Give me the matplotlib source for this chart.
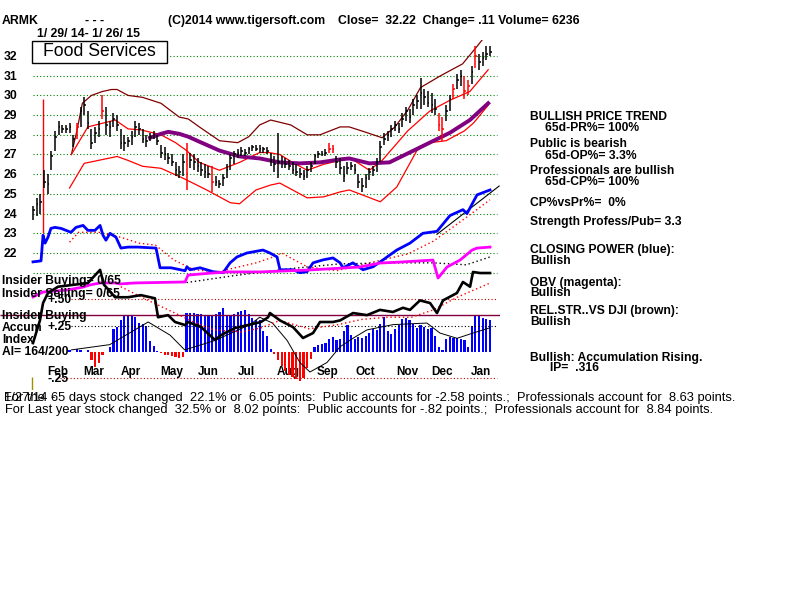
import numpy as np
import matplotlib
matplotlib.use("Agg")
import matplotlib.pyplot as plt
from matplotlib.patches import Rectangle

# ---- price bars, sampled every 2 trading days from 1/29/14 ----
days = list(range(0, 252, 2))
highs = [24.4, 24.8, 25.0, 26.2, 26.0, 27.2, 28.2, 28.7, 28.5, 28.5, 28.6, 28.0, 28.6, 29.4, 29.9, 29.2,
         28.3, 28.4, 28.7, 30.0, 29.4, 28.7, 29.1, 29.0, 28.3, 28.0, 27.9, 28.2, 28.7, 28.6, 28.3, 28.0,
         28.1, 28.2, 28.0, 27.5, 27.4, 27.1, 27.0, 26.6, 26.4, 27.0, 27.6, 27.1, 27.0, 26.8, 26.6, 26.5,
         26.4, 26.4, 25.9, 25.7, 26.0, 26.5, 27.0, 27.2, 27.3, 27.4, 27.3, 27.4, 27.5, 27.5, 27.5, 27.4,
         27.4, 27.1, 26.9, 28.1, 26.9, 26.8, 26.7, 26.6, 26.5, 26.3, 26.2, 26.4, 26.6, 27.0, 27.2, 27.2,
         27.3, 27.6, 27.5, 26.9, 26.8, 26.4, 26.6, 26.6, 26.5, 26.0, 25.8, 26.0, 26.3, 26.4, 26.8, 27.7,
         28.1, 28.2, 28.5, 28.7, 28.6, 29.1, 29.4, 29.3, 29.8, 30.0, 30.9, 30.3, 30.2, 30.1, 29.8, 29.1,
         28.9, 29.5, 30.0, 30.6, 31.1, 31.3, 31.0, 30.8, 31.5, 32.5, 32.1, 32.2, 32.5, 32.5]
lows = [23.7, 23.9, 24.0, 25.3, 25.0, 26.2, 27.2, 28.0, 28.1, 28.1, 28.1, 27.4, 27.8, 28.4, 29.0, 28.3,
        27.3, 27.6, 27.9, 28.8, 28.0, 27.9, 28.4, 28.2, 27.3, 27.2, 27.4, 27.5, 27.9, 28.0, 27.6, 27.4,
        27.7, 27.8, 27.5, 26.8, 26.7, 26.5, 26.4, 25.9, 25.8, 25.9, 25.2, 26.3, 26.2, 26.1, 25.9, 25.8,
        25.8, 25.1, 25.4, 25.3, 25.4, 25.8, 26.2, 26.5, 26.8, 26.9, 26.9, 27.0, 27.2, 27.2, 27.1, 27.1,
        27.0, 26.4, 26.1, 25.8, 26.3, 26.3, 26.2, 26.0, 25.9, 25.8, 25.7, 25.8, 26.1, 26.5, 26.8, 26.9,
        26.9, 27.1, 27.1, 26.3, 26.0, 25.6, 26.0, 26.2, 26.0, 25.3, 25.1, 25.3, 25.7, 25.9, 26.1, 26.6,
        27.5, 27.7, 27.9, 28.2, 28.1, 28.4, 28.7, 28.6, 29.0, 29.3, 29.3, 29.5, 29.4, 29.1, 29.0, 28.2,
        27.7, 28.7, 29.2, 29.8, 30.3, 30.5, 29.8, 30.0, 30.6, 31.4, 31.3, 31.5, 31.8, 32.0]
closes = [24.2, 24.5, 24.6, 25.6, 25.5, 26.9, 27.9, 28.4, 28.3, 28.3, 28.4, 27.8, 28.4, 29.2, 29.5, 28.6,
          27.6, 28.1, 28.3, 29.2, 28.5, 28.4, 28.8, 28.5, 27.6, 27.6, 27.7, 27.9, 28.4, 28.3, 27.8, 27.7,
          27.9, 28.0, 27.7, 27.1, 27.0, 26.8, 26.6, 26.2, 26.1, 26.6, 26.0, 26.7, 26.6, 26.4, 26.2, 26.1,
          26.0, 25.6, 25.6, 25.5, 25.8, 26.2, 26.8, 27.0, 27.1, 27.2, 27.1, 27.3, 27.4, 27.3, 27.3, 27.3,
          27.2, 26.7, 26.5, 26.6, 26.6, 26.5, 26.4, 26.2, 26.1, 26.0, 25.9, 26.2, 26.4, 26.9, 27.0, 27.0,
          27.1, 27.3, 27.3, 26.6, 26.3, 25.9, 26.3, 26.4, 26.2, 25.6, 25.4, 25.8, 26.1, 26.2, 26.6, 27.4,
          27.8, 28.0, 28.3, 28.5, 28.3, 28.8, 29.2, 28.9, 29.5, 29.7, 30.1, 29.9, 29.6, 29.5, 29.3, 28.5,
          28.3, 29.2, 29.8, 30.3, 30.8, 31.0, 30.2, 30.5, 31.2, 32.0, 31.7, 31.9, 32.1, 32.22]
red_days = [24, 38, 84, 98, 162, 164, 222, 224, 230, 236, 238, 242]

# ---- bands and moving average (price units) ----
upper_d = [21, 24, 27, 32, 38, 43, 46, 52, 60, 70, 80, 85, 91, 102, 112, 118, 124, 130, 141, 150, 157,
           168, 173, 183, 191, 198, 205, 212, 223, 235, 243, 249]
upper_v = [27.0, 28.2, 29.6, 30.0, 30.2, 30.3, 30.3, 30.0, 29.9, 29.6, 28.9, 28.8, 28.4, 27.7, 27.6, 27.9,
           28.5, 28.75, 28.5, 28.0, 28.0, 28.4, 28.4, 28.1, 27.85, 28.4, 29.25, 30.4, 31.0, 31.6, 32.5, 33.2]
mid_d = [21, 30, 45, 52, 59, 70, 78, 84, 91, 102, 113, 124, 129, 135, 142, 150, 159, 168, 174, 184, 191,
         205, 217, 228, 239, 249]
mid_v = [27.0, 28.4, 28.75, 28.3, 28.25, 28.0, 27.6, 27.2, 26.6, 26.2, 26.6, 27.1, 27.1, 27.0, 26.6, 26.2,
         26.5, 26.7, 26.8, 26.2, 26.7, 28.2, 29.2, 29.75, 30.2, 31.3]
lower_d = [20, 28, 46, 52, 60, 70, 82, 95, 108, 113, 122, 130, 135, 150, 159, 168, 173, 190, 199, 210,
           217, 226, 236, 241, 249]
lower_v = [25.3, 26.55, 26.9, 26.7, 26.4, 26.3, 25.8, 25.2, 24.55, 24.5, 25.2, 25.45, 25.55, 24.8, 24.85,
           25.1, 25.2, 24.6, 25.35, 27.2, 27.6, 27.7, 28.2, 28.6, 29.5]
ma65_d = [64, 70, 74, 80, 85, 91, 102, 113, 124, 135, 146, 157, 168, 173, 184, 195, 206, 217, 228, 239, 249]
ma65_v = [27.85, 28.05, 28.15, 28.05, 27.9, 27.65, 27.2, 26.9, 26.8, 26.6, 26.55, 26.6, 26.75, 26.8, 26.55,
          26.6, 27.1, 27.6, 28.1, 28.75, 29.6]

# ---- closing power (blue) and OBV (magenta), drawn in price units ----
cp_d = [0, 4.4, 5.5, 6.6, 8.2, 9.8, 12, 15.3, 20.8, 23.5, 27.4, 30, 33.9, 36.7, 38.3, 39.9, 42.1, 45.4,
        48.1, 52, 57.4, 67.3, 69.5, 75.5, 83.2, 84.2, 85.9, 91.4, 98.5, 104, 107.8, 111.6, 117, 125.8,
        129.6, 133.5, 135.1, 142.2, 146, 149.9, 153.2, 158.6, 164.1, 168, 169.6, 175, 180.5, 186, 191.5,
        193.7, 199, 206.2, 213.3, 221, 228.1, 235.2, 237.4, 242.9, 250]
cp_v = [21.55, 21.6, 22.9, 22.5, 22.8, 23.25, 23.3, 23.25, 23.05, 23.3, 23.4, 23.15, 23.15, 23.4, 22.9,
        22.65, 23.0, 22.8, 22.25, 22.3, 22.3, 22.25, 21.25, 21.25, 21.1, 21.3, 21.15, 21.25, 21.05, 21.0,
        21.5, 21.8, 22.0, 22.15, 22.0, 21.8, 21.15, 21.15, 21.0, 21.05, 21.5, 21.65, 21.75, 21.5, 21.25,
        21.5, 21.15, 21.3, 21.65, 21.8, 22.15, 22.5, 23.0, 23.1, 23.9, 24.2, 24.0, 24.95, 25.2]
cp_ma_d = [20, 25, 36, 48, 58, 67, 77, 88, 101, 122, 130, 136, 150, 166, 184, 205, 219, 234, 250]
cp_ma_v = [22.55, 23.05, 23.05, 22.8, 22.5, 22.4, 21.65, 21.15, 21.04, 21.5, 21.75, 22.0, 21.3, 21.1,
           21.5, 21.95, 22.6, 23.6, 24.7]
cp_trend_d = [221, 255]
cp_trend_v = [22.95, 25.4]
obv_d = [0, 5.5, 18.6, 27.4, 31.2, 36.7, 44.9, 47.6, 55.8, 83.2, 84.8, 97.4, 106.7, 124.7, 151.5, 178.9,
         189.8, 200.8, 218.8, 221.6, 226.5, 233.6, 240.2, 242.9, 250]
obv_v = [19.77, 20.02, 20.12, 20.27, 20.38, 20.48, 20.48, 20.43, 20.48, 20.53, 20.88, 20.98, 21.04, 21.04,
         21.14, 21.29, 21.49, 21.54, 21.64, 20.73, 21.29, 21.64, 22.15, 22.25, 22.3]
obv_ma_d = [84, 110, 140, 168, 200, 219, 237, 250]
obv_ma_v = [20.5, 20.85, 21.2, 21.45, 21.5, 21.5, 21.4, 21.8]

# ---- lower panel: accumulation index and relative strength ----
ai_d = list(range(20, 252, 2))
ai_v = [0.02, 0.0, 0.03, 0.02, 0.0, 0.02, -0.08, -0.14, -0.10, -0.03, 0.0, 0.05, 0.22, 0.24, 0.30, 0.34,
        0.35, 0.35, 0.33, 0.28, 0.27, 0.25, 0.10, 0.06, 0.01, -0.01, -0.03, -0.03, -0.04, -0.05, -0.06,
        -0.05, 0.37, 0.37, 0.37, 0.36, 0.36, 0.35, 0.35, 0.35, 0.36, 0.38, 0.42, 0.34, 0.35, 0.36, 0.38,
        0.39, 0.40, 0.36, 0.32, 0.30, 0.30, 0.20, 0.15, 0.03, -0.02, -0.08, -0.13, -0.18, -0.22, -0.24,
        -0.26, -0.28, -0.25, -0.15, -0.07, 0.05, 0.07, 0.08, 0.09, 0.12, 0.14, 0.11, 0.12, 0.20, 0.26,
        0.16, 0.12, 0.14, 0.13, 0.15, 0.18, 0.22, 0.21, 0.27, 0.33, 0.20, 0.17, 0.22, 0.26, 0.31, 0.32,
        0.30, 0.27, 0.23, 0.26, 0.24, 0.22, 0.23, 0.15, 0.05, 0.02, 0.12, 0.14, 0.13, 0.13, 0.12, 0.11,
        0.05, 0.25, 0.34, 0.35, 0.32, 0.31, 0.30]
ai_ma_d = [21, 42, 63, 75, 83, 99.6, 118.7, 124, 131, 139, 146, 151.5, 160.8, 168, 175, 182.7, 197, 215.5,
           222.6, 232, 240.7, 250]
ai_ma_v = [0.02, 0.07, 0.285, 0.16, 0.02, 0.11, 0.26, 0.33, 0.275, 0.11, -0.10, -0.19, -0.10, 0.05, 0.13,
           0.21, 0.26, 0.275, 0.18, 0.13, 0.18, 0.23]
rs_d = [0, 3.8, 5.5, 8.2, 13.7, 30, 36.7, 38.8, 44.9, 52, 59, 66.7, 68.4, 73.9, 77.7, 83.2, 84.8, 91.9,
        99.6, 102.8, 110.5, 117.6, 124.7, 128.6, 129.6, 135.1, 142.2, 147.7, 153.2, 157, 164.1, 168, 175.1,
        182.7, 189.8, 196.9, 202.4, 206.2, 211.7, 217.2, 221, 224.3, 231.9, 235.2, 239.1, 240.7, 244.5, 250]
rs_v = [0.085, 0.30, 0.465, 0.56, 0.62, 0.655, 0.78, 0.64, 0.52, 0.52, 0.54, 0.51, 0.33, 0.35, 0.285,
        0.256, 0.285, 0.237, 0.114, 0.16, 0.228, 0.256, 0.285, 0.33, 0.37, 0.30, 0.237, 0.133, 0.18, 0.285,
        0.285, 0.30, 0.37, 0.35, 0.40, 0.38, 0.42, 0.40, 0.49, 0.465, 0.37, 0.49, 0.56, 0.665, 0.62, 0.76,
        0.75, 0.75]
rs_ma_d = [48, 63, 74, 89, 99, 114, 125, 135, 151, 167, 180, 194, 207, 219, 232, 250]
rs_ma_v = [0.62, 0.49, 0.40, 0.275, 0.21, 0.19, 0.23, 0.30, 0.22, 0.26, 0.31, 0.33, 0.33, 0.40, 0.52, 0.655]

months = ["Feb", "Mar", "Apr", "May", "Jun", "Jul", "Aug", "Sep", "Oct", "Nov", "Dec", "Jan"]
month_pos = [13.7, 33.4, 53.6, 76, 96, 116.5, 139.5, 161, 181.6, 204.6, 224, 245]
price_ticks = [32, 31, 30, 29, 28, 27, 26, 25, 24, 23, 22]

W, H = 800, 600
fig = plt.figure(figsize=(8, 6), dpi=100)
fig.patch.set_facecolor("white")


def fx(x):
    return x / W


def fy(y):
    return 1 - y / H


# both panels share the same box: pixel x 0..500, y 40..390
box = [0, fy(390), fx(500), (390 - 40) / H]
ax = fig.add_axes(box)
ax2 = fig.add_axes(box)
for a in (ax, ax2):
    a.set_xlim(-18.05, 255.47)
    a.axis("off")
    a.patch.set_alpha(0)
ax.set_ylim(15.046, 32.812)
ax2.set_ylim(-0.3609, 2.963)

dot = (0, (1, 2))
ax.hlines(price_ticks + [21], 0, 253.8, colors="#008000", linestyles=dot, lw=0.8)

# lower panel guides
ax2.hlines([0.5], 21, 253.8, colors="#b00000", linestyles=dot, lw=0.8)
ax2.hlines([0.25], 21, 253.8, colors="black", linestyles=dot, lw=0.8)
ax2.hlines([-0.25], 15, 253.8, colors="#b00000", linestyles=dot, lw=0.8)
ax2.hlines([0.35], -18, 255.5, colors="#800040", lw=1.0)
ax2.vlines([-0.5], -0.40, -0.24, colors="#a09000", lw=1.0)

# accumulation histogram
ai_v = np.array(ai_v)
ai_cols = np.where(ai_v >= 0, "#0000ff", "#ff0000")
ax2.bar(ai_d, ai_v, width=1.2, color=ai_cols, linewidth=0, antialiased=False)
ax2.plot(ai_ma_d, ai_ma_v, color="black", lw=0.7)

# relative strength
ax2.plot(rs_ma_d, rs_ma_v, color="#ff0000", lw=1.0, ls=(0, (1, 2)))
ax2.plot(rs_d, rs_v, color="black", lw=1.9)

# bands and MA
ax.plot(upper_d, upper_v, color="#800000", lw=0.9)
ax.plot(mid_d, mid_v, color="#ff0000", lw=0.9)
ax.plot(lower_d, lower_v, color="#ff0000", lw=0.9)
ax.plot(ma65_d, ma65_v, color="#800080", lw=2.8)

# closing power / OBV
ax.plot(cp_ma_d, cp_ma_v, color="#ff0000", lw=1.0, ls=(0, (1, 2)))
ax.plot(cp_trend_d, cp_trend_v, color="black", lw=0.8)
ax.plot(obv_ma_d, obv_ma_v, color="black", lw=1.0, ls=(0, (1, 2)))
ax.plot(cp_d, cp_v, color="#0000ff", lw=2.0)
ax.plot(obv_d, obv_v, color="#ff00ff", lw=2.0)

# price bars
bar_cols = ["#ff0000" if d in red_days else "black" for d in days]
ax.vlines([5.5], 23.0, 29.8, colors="#ff0000", lw=1.0)
ax.vlines(days, lows, highs, colors=bar_cols, lw=1.1)
ax.hlines(closes, np.array(days), np.array(days) + 0.9, colors=bar_cols, lw=1.1)

# month labels
for m, p in zip(months, month_pos):
    ax.text(p, 15.95, m, ha="center", va="center", fontsize=8.5, fontweight="bold",
            family="Liberation Sans")

bold = dict(fontsize=8.7, fontweight="bold", family="Liberation Sans", va="center")
head = dict(fontsize=8.8, fontweight="bold", family="Liberation Sans", va="center")
reg = dict(fontsize=9.3, family="Liberation Sans", va="center")

# price scale
for t in price_ticks:
    yp = 56 + (32 - t) * 19.7
    fig.text(fx(4), fy(yp + 1), str(t), **head)

# header
fig.text(fx(2), fy(21), "ARMK", **head)
fig.text(fx(85), fy(21), "- - -", **head)
fig.text(fx(168), fy(21), "(C)2014 www.tigersoft.com", **head)
fig.text(fx(338), fy(21), "Close=  32.22  Change= .11 Volume= 6236", **head)
fig.text(fx(37), fy(34), "1/ 29/ 14- 1/ 26/ 15", **head)

fig.patches.append(Rectangle((fx(32), fy(63)), fx(135), 22 / H, transform=fig.transFigure,
                             facecolor="white", edgecolor="black", lw=1.0, zorder=3))
fig.text(fx(99.5), fy(52), "Food Services", fontsize=12.7, family="Liberation Sans",
         ha="center", va="center", zorder=4)

# left panel labels (overlapping as in the original)
fig.text(fx(2), fy(281), "Insider Buying= 0/65", **bold)
fig.text(fx(2), fy(294), "Insider Selling= 0/65", **bold)
fig.text(fx(47), fy(300), "+.50", **bold)
fig.text(fx(2), fy(316), "Insider Buying", **bold)
fig.text(fx(2), fy(328), "Accum", **bold)
fig.text(fx(47), fy(327), "+.25", **bold)
fig.text(fx(2), fy(340), "Index", **bold)
fig.text(fx(2), fy(352), "AI= 164/200", **bold)
fig.text(fx(47), fy(379), "-.25", **bold)

# right-side commentary
right = [
    (530, 117, "BULLISH PRICE TREND"),
    (545, 128, "65d-PR%= 100%"),
    (530, 144, "Public is bearish"),
    (545, 156, "65d-OP%= 3.3%"),
    (530, 171, "Professionals are bullish"),
    (545, 182, "65d-CP%= 100%"),
    (530, 203, "CP%vsPr%=  0%"),
    (530, 222, "Strength Profess/Pub= 3.3"),
    (530, 250, "CLOSING POWER (blue):"),
    (530, 261, "Bullish"),
    (530, 283, "OBV (magenta):"),
    (530, 293, "Bullish"),
    (530, 311, "REL.STR..VS DJI (brown):"),
    (530, 322, "Bullish"),
    (530, 358, "Bullish: Accumulation Rising."),
    (550, 368, "IP=  .316"),
]
for x, y, s in right:
    fig.text(fx(x), fy(y), s, **bold)

# bottom summary
fig.text(fx(4), fy(398), "For the", **reg)
fig.text(fx(4), fy(398), "1/27/14 -", **reg)
fig.text(fx(51), fy(398), "65 days stock changed  22.1% or  6.05 points:  Public accounts for -2.58 points.;"
         "  Professionals account for  8.63 points.", **reg)
fig.text(fx(5), fy(410), "For Last year stock changed  32.5% or  8.02 points:  Public accounts for -.82 points.;"
         "  Professionals account for  8.84 points.", **reg)

fig.savefig("out.png", dpi=100, facecolor="white")
